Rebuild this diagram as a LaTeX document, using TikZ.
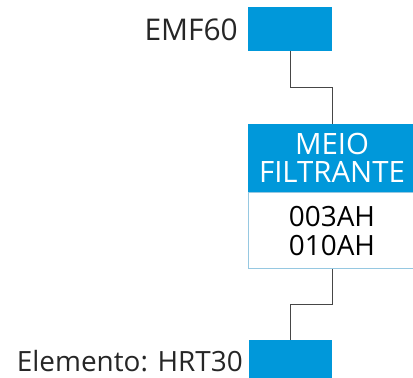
\documentclass[tikz,border=0pt]{standalone}
\usepackage{fontspec}
\setmainfont{Open Sans}
\usetikzlibrary{positioning}

\definecolor{filterblue}{RGB}{0,152,218}
\definecolor{edgeblue}{RGB}{150,200,225}
\definecolor{wiregray}{RGB}{70,70,70}

\begin{document}
\begin{tikzpicture}[
    x=1bp, y=-1bp, % pixel-like units, y pointing down
    bluebox/.style={fill=filterblue, draw=none, inner sep=0pt}, % Style for the blue blocks
    headbox/.style={bluebox, text=white, minimum width=168bp, minimum height=68bp, align=center,
        font=\fontsize{29.5}{27.5}\selectfont}, % Style for the header of the middle block
    bodybox/.style={draw=edgeblue, line width=0.8bp, fill=white, align=center, inner xsep=0pt,
        inner ysep=13bp, minimum width=168bp, minimum height=76bp,
        font=\fontsize{28}{29}\selectfont}, % Style for the white part
    sidelabel/.style={text=black!85, inner sep=0pt, anchor=base east, font=\fontsize{30}{30}\selectfont}, % Style for labels
    wire/.style={draw=wiregray, line width=1bp} % Style for the connectors
]
    \useasboundingbox (0,0) rectangle (413,378);

    % --- Top block ---
    \node[bluebox, minimum width=84bp, minimum height=44bp] (emf) at (290,29) {};
    \node[sidelabel] (emflabel) at (238,40) {EMF60};

    % --- Middle block (cut at the right edge) ---
    \node[headbox] (meiohead) at (332,158) {MEIO\\FILTRANTE};
    \node[bodybox, below=0pt of meiohead] (meiobody) {003AH\\010AH};

    % --- Bottom block ---
    \node[bluebox, minimum width=83bp, minimum height=40bp] (hrt) at (290.5,360) {};
    \node[sidelabel, font=\fontsize{28}{28}\selectfont] (hrtlabel) at (243,371) {Elemento: HRT30};

    % Connectors
    \draw[wire] (emf.south) -- ++(0,36) -| (meiohead.north);
    \draw[wire] (meiobody.south) -- ++(0,35) -| (hrt.north);

\end{tikzpicture}
\end{document}
